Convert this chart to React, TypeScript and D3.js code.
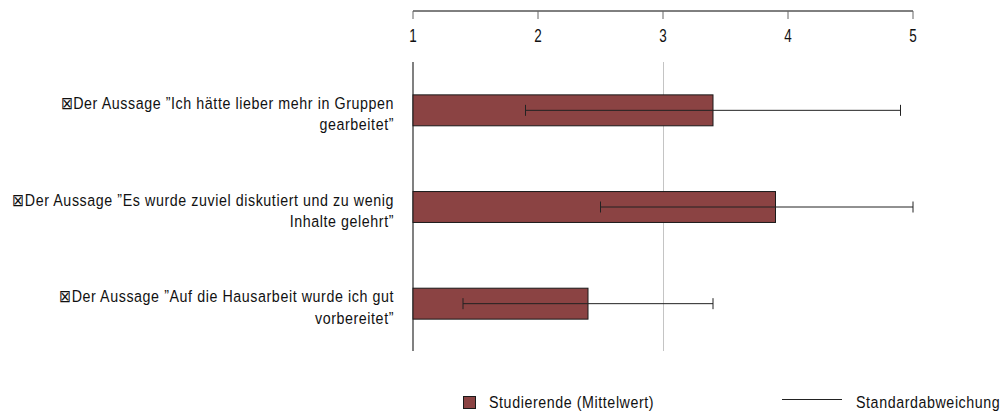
import React from "react";
import * as d3 from "d3";

const categories = [
  ["\u22A0Der Aussage \u201DIch hätte lieber mehr in Gruppen", "gearbeitet\u201D"],
  ["\u22A0Der Aussage \u201DEs wurde zuviel diskutiert und zu wenig", "Inhalte gelehrt\u201D"],
  ["\u22A0Der Aussage \u201DAuf die Hausarbeit wurde ich gut", "vorbereitet\u201D"],
];
const means = [3.4, 3.9, 2.4];
const sds = [1.5, 1.4, 1.0];
const ticks = [1, 2, 3, 4, 5];
const legendLabels = ["Studierende (Mittelwert)", "Standardabweichung"];

const W = 1004;
const H = 414;
const FONT = "'Liberation Sans', Arial, sans-serif";
const BAR = "#8B4343";

function NText({
  x,
  y,
  anchor = "start",
  size = 17,
  sx = 0.84,
  ls = 0.68,
  children,
}: {
  x: number;
  y: number;
  anchor?: "start" | "middle" | "end";
  size?: number;
  sx?: number;
  ls?: number;
  children: React.ReactNode;
}) {
  return (
    <g transform={`translate(${x},${y}) scale(${sx},1)`}>
      <text x={0} y={0} fontSize={size} textAnchor={anchor} fill="#111" letterSpacing={ls} fontFamily={FONT}>
        {children}
      </text>
    </g>
  );
}

export default function App() {
  const x = d3.scaleLinear().domain([1, 5]).range([413, 913]);
  const y = d3
    .scaleBand<number>()
    .domain(d3.range(categories.length))
    .range([62, 352])
    .paddingInner(0.68)
    .paddingOuter(0.34);
  const bw = y.bandwidth();
  const axisY = 11;

  return (
    <svg width={W} height={H} style={{ position: "absolute", left: 0, top: 0, fontFamily: FONT }}>
      <rect width={W} height={H} fill="#fff" />
      {/* top axis */}
      <line x1={x(1)} x2={x(5)} y1={axisY} y2={axisY} stroke="#000" strokeWidth={1} />
      {ticks.map((t) => (
        <g key={t}>
          <line x1={x(t)} x2={x(t)} y1={axisY} y2={axisY + 8} stroke="#666" strokeWidth={1} />
          <NText x={x(t)} y={42} anchor="middle" size={18} sx={0.75} ls={0}>
            {t}
          </NText>
        </g>
      ))}
      {/* gridline at 3 */}
      <line x1={x(3) + 0.5} x2={x(3) + 0.5} y1={62} y2={351} stroke="#c4c4c4" strokeWidth={1} />
      {/* left axis */}
      <line x1={x(1)} x2={x(1)} y1={62} y2={351} stroke="#808080" strokeWidth={2} />
      {/* bars */}
      {means.map((m, i) => {
        const yc = (y(i) as number) + bw / 2;
        const lo = Math.max(1, m - sds[i]);
        const hi = Math.min(5, m + sds[i]);
        return (
          <g key={i}>
            <rect x={x(1)} y={y(i)} width={x(m) - x(1)} height={bw} fill={BAR} stroke="#1a1a1a" strokeWidth={1} />
            <line x1={x(lo)} x2={x(hi)} y1={yc} y2={yc} stroke="#222" strokeWidth={1} />
            <line x1={x(lo)} x2={x(lo)} y1={yc - 5.5} y2={yc + 5.5} stroke="#222" strokeWidth={1} />
            <line x1={x(hi)} x2={x(hi)} y1={yc - 5.5} y2={yc + 5.5} stroke="#222" strokeWidth={1} />
            <NText x={394} y={yc - 1.5} anchor="end">
              {categories[i][0]}
            </NText>
            <NText x={394} y={yc + 20} anchor="end">
              {categories[i][1]}
            </NText>
          </g>
        );
      })}
      {/* legend */}
      <rect x={463.5} y={396.5} width={12} height={12} fill={BAR} stroke="#1a1a1a" strokeWidth={1} />
      <NText x={489} y={408}>{legendLabels[0]}</NText>
      <line x1={782} x2={842} y1={399.5} y2={399.5} stroke="#222" strokeWidth={1} />
      <NText x={856} y={408}>{legendLabels[1]}</NText>
    </svg>
  );
}
